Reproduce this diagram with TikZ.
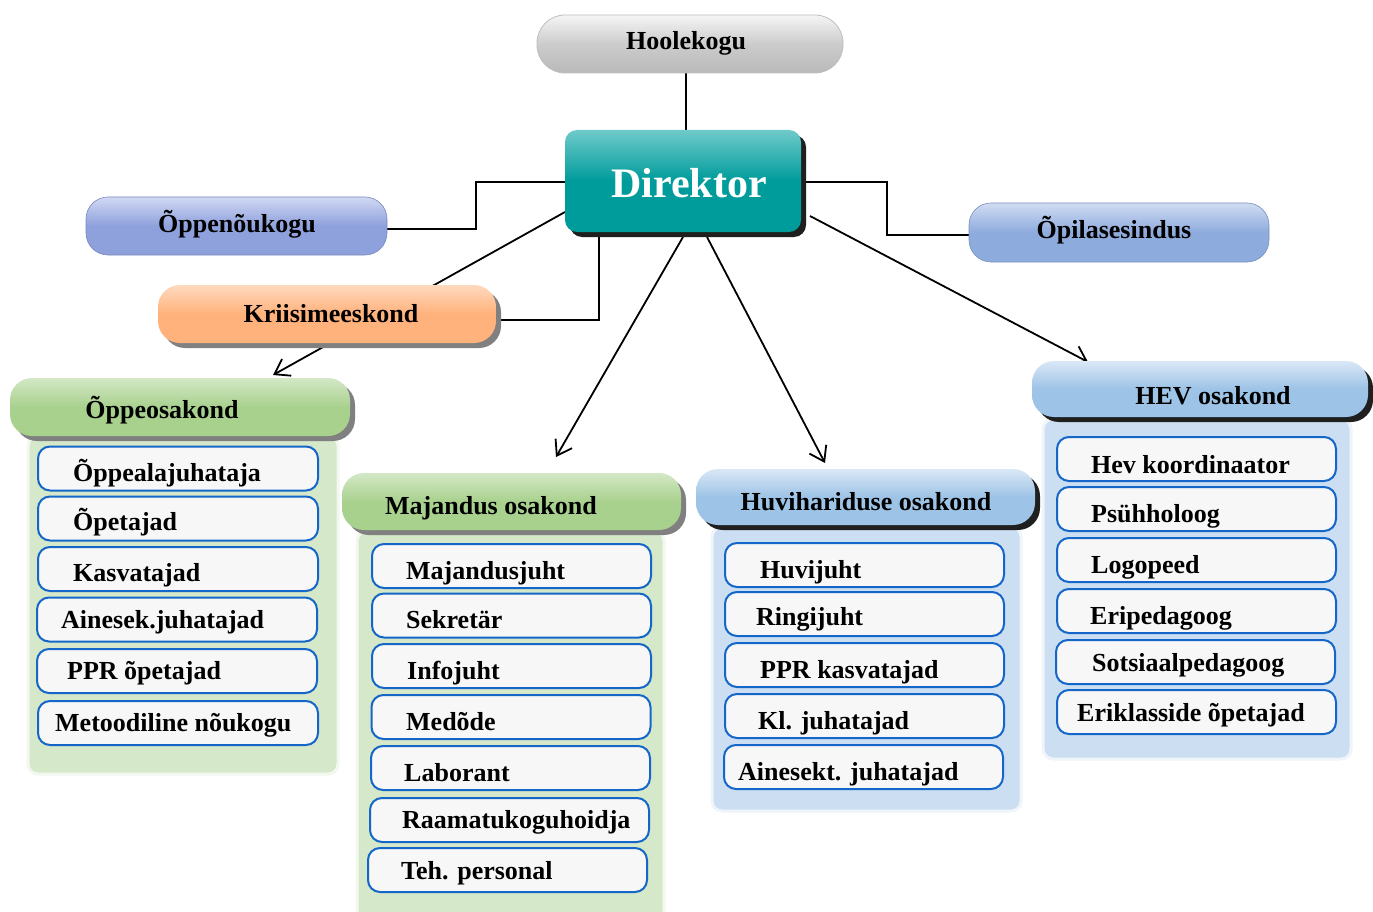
\documentclass[tikz,border=0pt]{standalone}
\usepackage{fontspec}
\setmainfont{Liberation Serif}
\usetikzlibrary{arrows.meta,shadows}
\definecolor{teal1}{HTML}{009B9B}
\definecolor{teal2}{HTML}{6FCACA}
\definecolor{peri}{HTML}{8FA1DD}
\definecolor{peri2}{HTML}{D0D8F2}
\definecolor{opl}{HTML}{8EABDD}
\definecolor{opl2}{HTML}{D0DCF2}
\definecolor{orng}{HTML}{FFB27C}
\definecolor{orng2}{HTML}{FFD9BE}
\definecolor{grn}{HTML}{A9D18E}
\definecolor{grn2}{HTML}{D3E8C6}
\definecolor{blu}{HTML}{9DC3E6}
\definecolor{blu2}{HTML}{DAE8F6}
\definecolor{gpanel}{HTML}{D5E8CA}
\definecolor{bpanel}{HTML}{CBDEF2}
\definecolor{itborder}{HTML}{1467C8}
\definecolor{itfill}{HTML}{F7F7F7}
\pgfdeclarelayer{bg}
\pgfdeclarelayer{paper}
\pgfsetlayers{paper,bg,main}
\begin{document}
\begin{tikzpicture}[x=1pt,y=-1pt,
  txt/.style={font=\bfseries\fontsize{26}{30}\selectfont, inner sep=0pt, anchor=base},
  itxt/.style={font=\bfseries\fontsize{26}{30}\selectfont, inner sep=0pt, anchor=base west},
  hdr/.style={rectangle, rounded corners=22pt, inner sep=0pt},
  gshadow/.style={drop shadow={shadow xshift=5pt, shadow yshift=-5pt, fill=black!50, opacity=1}},
  dshadow/.style={drop shadow={shadow xshift=5pt, shadow yshift=-5pt, fill=black!88, opacity=1}},
  greenhdr/.style={hdr, top color=grn2, bottom color=grn, middle color=grn, gshadow},
  bluehdr/.style={hdr, top color=blu2, bottom color=blu, middle color=blu, dshadow},
  gpan/.style={rectangle, rounded corners=10pt, fill=gpanel, draw=white!70!gpanel, line width=3pt, inner sep=0pt},
  bpan/.style={rectangle, rounded corners=10pt, fill=bpanel, draw=white!70!bpanel, line width=3pt, inner sep=0pt},
  itm/.style={rectangle, rounded corners=12pt, fill=itfill, draw=itborder, line width=2pt, minimum height=44pt, minimum width=279pt, inner sep=0pt},
  ln/.style={line width=1.8pt, black},
  arr/.style={ln, -{Straight Barb[length=14pt,width=19pt,line width=1.8pt]}}
]
\useasboundingbox (0,0) rectangle (1373,912);
\begin{pgfonlayer}{paper}
\fill[white] (0,0) rectangle (1373,912);
\end{pgfonlayer}

% panels
\node[gpan, minimum width=310pt, minimum height=338pt] (p1) at (183,605) {};
\node[gpan, minimum width=307pt, minimum height=390pt] (p2) at (510.5,726) {};
\node[bpan, minimum width=309pt, minimum height=284pt] (p3) at (866.5,669) {};
\node[bpan, minimum width=308pt, minimum height=340pt] (p4) at (1197,589) {};

% top nodes
\node[hdr, rounded corners=28pt, top color=gray!8, bottom color=gray!55, middle color=gray!40, draw=gray!50, line width=0.8pt, minimum width=306pt, minimum height=58pt] (hool) at (690,44) {};
\node[txt] (hoolt) at (686,50) {Hoolekogu};

\node[rectangle, rounded corners=12pt, top color=teal2, bottom color=teal1, middle color=teal1, dshadow, minimum width=236pt, minimum height=102pt, inner sep=0pt] (dir) at (683,181) {};
\node[txt, font=\bfseries\fontsize{42}{46}\selectfont, text=white] (dirt) at (689,197) {Direktor};

\node[hdr, top color=peri2, bottom color=peri, middle color=peri, draw=peri!85!black, line width=0.6pt, minimum width=301pt, minimum height=58pt] (opn) at (236.5,226) {};
\node[txt] (opnt) at (237,233) {Õppenõukogu};

\node[hdr, top color=opl2, bottom color=opl, middle color=opl, draw=opl!85!black, line width=0.6pt, minimum width=300pt, minimum height=59pt] (opl) at (1119,232.5) {};
\node[txt] (oplt) at (1114,238) {Õpilasesindus};

\node[hdr, top color=orng2, bottom color=orng, middle color=orng, gshadow, minimum width=338pt, minimum height=58pt] (kri) at (327,314) {};
\node[txt] (krit) at (331,322) {Kriisimeeskond};

% department headers
\node[greenhdr, minimum width=340pt, minimum height=58pt] (h1) at (180,407) {};
\node[txt] (h1t) at (162,418) {Õppeosakond};
\node[greenhdr, minimum width=339pt, minimum height=57pt] (h2) at (511.5,501.5) {};
\node[txt] (h2t) at (491,514) {Majandus osakond};
\node[bluehdr, minimum width=339pt, minimum height=56pt] (h3) at (865.5,497) {};
\node[txt] (h3t) at (866,510) {Huvihariduse osakond};
\node[bluehdr, minimum width=336pt, minimum height=56pt] (h4) at (1200,389) {};
\node[txt] (h4t) at (1213,404) {HEV osakond};

% Õppeosakond items
\node[itm, minimum width=280pt] (o1) at (178,468.5) {};
\node[itxt] (o1t) at (73,481) {Õppealajuhataja};
\node[itm, minimum width=280pt] (o2) at (178,518.5) {};
\node[itxt] (o2t) at (73,530) {Õpetajad};
\node[itm, minimum width=280pt] (o3) at (178,569) {};
\node[itxt] (o3t) at (73,581) {Kasvatajad};
\node[itm, minimum width=280pt] (o4) at (177,619.5) {};
\node[itxt] (o4t) at (61,628) {Ainesek.juhatajad};
\node[itm, minimum width=280pt] (o5) at (177,671) {};
\node[itxt] (o5t) at (67,679) {PPR õpetajad};
\node[itm, minimum width=280pt] (o6) at (178,723) {};
\node[itxt] (o6t) at (55,731) {Metoodiline nõukogu};

% Majandus items
\node[itm] (m1) at (511.5,566) {};
\node[itxt] (m1t) at (406,579) {Majandusjuht};
\node[itm] (m2) at (511.5,615.5) {};
\node[itxt] (m2t) at (406,628) {Sekretär};
\node[itm] (m3) at (511.5,666) {};
\node[itxt] (m3t) at (407,679) {Infojuht};
\node[itm] (m4) at (511,717) {};
\node[itxt] (m4t) at (406,730) {Medõde};
\node[itm] (m5) at (510.5,768) {};
\node[itxt] (m5t) at (404,781) {Laborant};
\node[itm] (m6) at (509.5,820) {};
\node[itxt] (m6t) at (402,828) {Raamatukoguhoidja};
\node[itm] (m7) at (507.5,870) {};
\node[itxt] (m7t) at (401,879) {Teh. personal};

% Huvihariduse items
\node[itm] (u1) at (864.5,565) {};
\node[itxt] (u1t) at (760,578) {Huvijuht};
\node[itm] (u2) at (864.5,614) {};
\node[itxt] (u2t) at (756,625) {Ringijuht};
\node[itm] (u3) at (864.5,665) {};
\node[itxt] (u3t) at (760,678) {PPR kasvatajad};
\node[itm] (u4) at (864.5,716) {};
\node[itxt] (u4t) at (758,729) {Kl. juhatajad};
\node[itm] (u5) at (863.5,767) {};
\node[itxt] (u5t) at (738,780) {Ainesekt. juhatajad};

% HEV items
\node[itm] (v1) at (1196.5,459) {};
\node[itxt] (v1t) at (1091,473) {Hev koordinaator};
\node[itm] (v2) at (1196.5,509) {};
\node[itxt] (v2t) at (1091,522) {Psühholoog};
\node[itm] (v3) at (1196.5,560) {};
\node[itxt] (v3t) at (1091,573) {Logopeed};
\node[itm] (v4) at (1196.5,611) {};
\node[itxt] (v4t) at (1090,624) {Eripedagoog};
\node[itm] (v5) at (1195.5,662) {};
\node[itxt] (v5t) at (1092,671) {Sotsiaalpedagoog};
\node[itm] (v6) at (1196.5,712) {};
\node[itxt] (v6t) at (1077,721) {Eriklasside õpetajad};

% connectors
\coordinate (kH) at (686,100);
\coordinate (kL) at (476,182);
\coordinate (kL2) at (476,229);
\coordinate (kR) at (887,182);
\coordinate (kR2) at (887,235);
\coordinate (kK) at (599,320);
\coordinate (dA) at (565,212);
\coordinate (tA) at (273,375);
\coordinate (dB) at (683,237);
\coordinate (tB) at (556,457);
\coordinate (dC) at (707,237);
\coordinate (tC) at (825,463);
\coordinate (dD) at (810,216);
\coordinate (tD) at (1088,362);
\begin{pgfonlayer}{bg}
\draw[ln] (kH |- dir.north) -- (kH |- hool.south);
\draw[ln] (dir.west |- kL) -- (kL) -- (kL2) -- (kL2 -| opn.east);
\draw[ln] (dir.east |- kR) -- (kR) -- (kR2) -- (kR2 -| opl.west);
\draw[ln] (kK |- dir.south) -- (kK) -- (kK -| kri.east);
\draw[arr] (dA) -- (tA);
\draw[arr] (dB) -- (tB);
\draw[arr] (dC) -- (tC);
\draw[arr] (dD) -- (tD);
\end{pgfonlayer}
\end{tikzpicture}
\end{document}
